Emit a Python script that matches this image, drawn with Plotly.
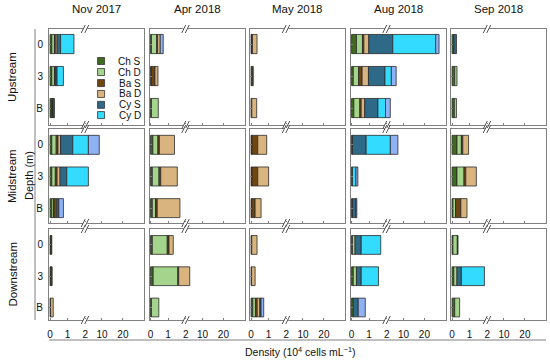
import numpy as np
import plotly.graph_objects as go

months = ["Nov 2017", "Apr 2018", "May 2018", "Aug 2018", "Sep 2018"]
sites = ["Upstream", "Midstream", "Downstream"]
depths = ["0", "3", "B"]
groups = ["Ch S", "Ch D", "Ba S", "Ba D", "Cy S", "Cy D", "Other"]
colors = ["#3f6b1f", "#a5d48c", "#6e4612", "#d9b47e", "#2e6a88", "#33dcff", "#8fb2f6"]
legend_groups = ["Ch S", "Ch D", "Ba S", "Ba D", "Cy S", "Cy D"]
tick_vals_real = [0, 1, 2, 10, 20]
tick_text = ["0", "1", "2", "10", "20"]

# values [site][month][depth 0,3,B], density 10^4 cells/mL
ch_s = [
    [[0.10, 0.10, 0.08], [0.05, 0.05, 0.05], [0.04, 0.00, 0.04], [0.28, 0.10, 0.13], [0.10, 0.15, 0.13]],
    [[0.10, 0.10, 0.10], [0.13, 0.10, 0.10], [0.05, 0.05, 0.04], [0.05, 0.05, 0.05], [0.28, 0.28, 0.05]],
    [[0.05, 0.05, 0.03], [0.10, 0.15, 0.05], [0.04, 0.03, 0.10], [0.05, 0.10, 0.10], [0.05, 0.10, 0.15]],
]
ch_d = [
    [[0.15, 0.15, 0.05], [0.30, 0.00, 0.39], [0.00, 0.00, 0.00], [0.34, 0.30, 0.34], [0.00, 0.13, 0.12]],
    [[0.25, 0.20, 0.10], [0.29, 0.38, 0.18], [0.00, 0.00, 0.00], [0.00, 0.00, 0.00], [0.25, 0.40, 0.15]],
    [[0.00, 0.00, 0.00], [0.85, 1.40, 0.42], [0.00, 0.00, 0.15], [0.15, 0.18, 0.00], [0.25, 0.18, 0.28]],
]
ba_s = [
    [[0.05, 0.05, 0.04], [0.05, 0.20, 0.00], [0.04, 0.08, 0.00], [0.08, 0.20, 0.08], [0.00, 0.00, 0.00]],
    [[0.10, 0.10, 0.10], [0.08, 0.10, 0.10], [0.33, 0.33, 0.19], [0.00, 0.00, 0.00], [0.08, 0.10, 0.30]],
    [[0.05, 0.07, 0.00], [0.10, 0.05, 0.00], [0.00, 0.00, 0.10], [0.00, 0.00, 0.00], [0.04, 0.00, 0.00]],
]
ba_d = [
    [[0.10, 0.00, 0.00], [0.15, 0.17, 0.00], [0.26, 0.05, 0.28], [0.28, 0.36, 0.20], [0.00, 0.00, 0.00]],
    [[0.15, 0.17, 0.08], [0.86, 0.94, 1.29], [0.51, 0.62, 0.34], [0.00, 0.00, 0.00], [0.33, 0.60, 0.35]],
    [[0.00, 0.00, 0.15], [0.24, 2.30, 0.00], [0.30, 0.20, 0.15], [0.00, 0.00, 0.00], [0.00, 0.00, 0.00]],
]
cy_s = [
    [[0.20, 0.10, 0.08], [0.00, 0.00, 0.00], [0.00, 0.00, 0.00], [3.90, 0.94, 0.75], [0.15, 0.00, 0.00]],
    [[0.69, 0.38, 0.12], [0.00, 0.00, 0.00], [0.00, 0.00, 0.00], [0.78, 0.00, 0.20], [0.00, 0.00, 0.00]],
    [[0.00, 0.00, 0.00], [0.00, 0.00, 0.00], [0.00, 0.00, 0.07], [0.35, 0.27, 0.28], [0.00, 0.25, 0.00]],
]
cy_d = [
    [[0.76, 0.36, 0.00], [0.00, 0.00, 0.00], [0.00, 0.00, 0.00], [20.5, 2.30, 0.43], [0.00, 0.00, 0.00]],
    [[2.21, 2.55, 0.00], [0.00, 0.00, 0.00], [0.00, 0.00, 0.00], [2.90, 0.20, 0.00], [0.00, 0.00, 0.00]],
    [[0.00, 0.00, 0.00], [0.00, 0.00, 0.00], [0.00, 0.00, 0.00], [1.11, 0.98, 0.00], [0.00, 1.31, 0.00]],
]
other = [
    [[0.00, 0.00, 0.00], [0.17, 0.00, 0.00], [0.00, 0.00, 0.00], [1.60, 2.30, 1.77], [0.00, 0.00, 0.00]],
    [[5.20, 0.00, 0.26], [0.00, 0.00, 0.00], [0.00, 0.00, 0.00], [3.60, 0.11, 0.05], [0.00, 0.00, 0.00]],
    [[0.00, 0.00, 0.00], [0.00, 0.00, 0.00], [0.00, 0.00, 0.15], [0.00, 0.00, 0.40], [0.00, 0.00, 0.00]],
]
series = [ch_s, ch_d, ba_s, ba_d, cy_s, cy_d, other]

BREAK = 2.0
SCALE = 0.119


def brk(v):
    v = np.asarray(v, dtype=float)
    return np.where(v <= BREAK, v, BREAK + (v - BREAK) * SCALE)


W, H = 550, 360
ML, MR, MT, MB = 49, 4, 29, 40
PW, PH = W - ML - MR, H - MT - MB
col_left = [49, 149.5, 250, 350.5, 451]
col_w = 95
row_px = [(29, 125), (129, 223), (229, 320)]
row_yrange = [[2.53, -0.47], [2.47, -0.5], [2.4, -0.51]]


def px_x(p):
    return (p - ML) / PW


def px_y(p):
    return (MT + PH - p) / PH


fig = go.Figure()
layout = dict(
    width=W, height=H, margin=dict(l=ML, r=MR, t=MT, b=MB),
    plot_bgcolor="white", paper_bgcolor="white", showlegend=False,
    barmode="overlay", font=dict(family="Arial, Liberation Sans, sans-serif", size=10, color="#111"),
)
shapes = []
annotations = []
xr = [-0.06, 5.34]
xtv = list(brk(tick_vals_real))

for r in range(3):
    for c in range(5):
        k = r * 5 + c + 1
        xa = "x" if k == 1 else f"x{k}"
        ya = "y" if k == 1 else f"y{k}"
        layout["xaxis" if k == 1 else f"xaxis{k}"] = dict(
            domain=[px_x(col_left[c]), px_x(col_left[c] + col_w)], anchor=ya, range=xr,
            showline=True, mirror=True, linecolor="#808080", linewidth=1, showgrid=False, zeroline=False,
            tickvals=xtv, ticktext=tick_text, ticks="inside", ticklen=2, tickcolor="#808080",
            showticklabels=(r == 2), ticklabelstandoff=5, tickfont=dict(size=10, color="#111"),
        )
        layout["yaxis" if k == 1 else f"yaxis{k}"] = dict(
            domain=[px_y(row_px[r][1]), px_y(row_px[r][0])], anchor=xa, range=row_yrange[r],
            showline=True, mirror=True, linecolor="#808080", linewidth=1, showgrid=False, zeroline=False,
            tickvals=[0, 1, 2], ticktext=depths, ticks="inside", ticklen=2, tickcolor="#808080",
            showticklabels=(c == 0), ticklabelstandoff=3, tickfont=dict(size=10, color="#111"),
        )
        cum = np.zeros(3)
        for g, s in enumerate(series):
            vals = np.array(s[r][c], dtype=float)
            start = brk(cum)
            cum = cum + vals
            end = brk(cum)
            idx = [i for i in range(3) if vals[i] > 0]
            if not idx:
                continue
            fig.add_trace(go.Bar(
                orientation="h", y=[i for i in idx], x=[end[i] - start[i] for i in idx],
                base=[start[i] for i in idx], width=0.6, name=groups[g],
                marker=dict(color=colors[g], line=dict(color="#2a2a2a", width=0.8)),
                xaxis=xa, yaxis=ya, showlegend=False,
            ))
        # break marks
        for yv in (px_y(row_px[r][0]), px_y(row_px[r][1])):
            shapes.append(dict(type="rect", xref=xa, yref="paper", xsizemode="pixel", ysizemode="pixel",
                               xanchor=BREAK, yanchor=yv, x0=-2, x1=2, y0=-1, y1=1,
                               fillcolor="white", line=dict(width=0)))
            for off in (-2, 1.5):
                shapes.append(dict(type="line", xref=xa, yref="paper", xsizemode="pixel", ysizemode="pixel",
                                   xanchor=BREAK, yanchor=yv, x0=off - 2, x1=off + 2, y0=-4, y1=4,
                                   line=dict(color="#555", width=1)))

# column titles
for c, m in enumerate(months):
    annotations.append(dict(text=m, x=px_x(col_left[c] + col_w / 2), y=px_y(9), xref="paper", yref="paper",
                            showarrow=False, font=dict(size=11.5, color="#111"), xanchor="center", yanchor="middle"))
# row labels
for r, s in enumerate(sites):
    annotations.append(dict(text=s, x=px_x(12), y=px_y((row_px[r][0] + row_px[r][1]) / 2), xref="paper",
                            yref="paper", showarrow=False, textangle=-90, font=dict(size=11.5, color="#111"),
                            xanchor="center", yanchor="middle"))
annotations.append(dict(text="Depth (m)", x=px_x(29), y=px_y(176), xref="paper", yref="paper", showarrow=False,
                        textangle=-90, font=dict(size=11, color="#111"), xanchor="center", yanchor="middle"))
annotations.append(dict(text="Density (10<sup>4</sup> cells mL<sup>−1</sup>)", x=px_x(300), y=px_y(351),
                        xref="paper", yref="paper", showarrow=False, font=dict(size=10.5, color="#111"),
                        xanchor="center", yanchor="middle"))

# legend inside first panel
leg_y = [0.53, 0.875, 1.22, 1.56, 1.9, 2.22]
fig.add_trace(go.Scatter(
    x=[2.9] * len(legend_groups), y=leg_y, mode="markers",
    marker=dict(symbol="square", size=7, color=colors[:len(legend_groups)], line=dict(color="#333", width=0.8)),
    xaxis="x", yaxis="y", showlegend=False, hoverinfo="skip",
))
for g, yv in zip(legend_groups, leg_y):
    annotations.append(dict(text=g, x=5.28, y=yv, xref="x", yref="y", showarrow=False, xanchor="right",
                            yanchor="middle", font=dict(size=10, color="#111")))

# spanning axis lines
shapes.append(dict(type="line", xref="paper", yref="paper", x0=px_x(35), x1=px_x(35), y0=px_y(320), y1=px_y(29),
                   line=dict(color="#808080", width=1)))
shapes.append(dict(type="line", xref="paper", yref="paper", x0=px_x(49), x1=px_x(546), y0=px_y(340), y1=px_y(340),
                   line=dict(color="#808080", width=1)))

layout["shapes"] = shapes
layout["annotations"] = annotations
fig.update_layout(**layout)
fig.write_html("out.html", config={"displayModeBar": False},
               post_script="document.body.style.margin='0';document.body.style.overflow='hidden';")
